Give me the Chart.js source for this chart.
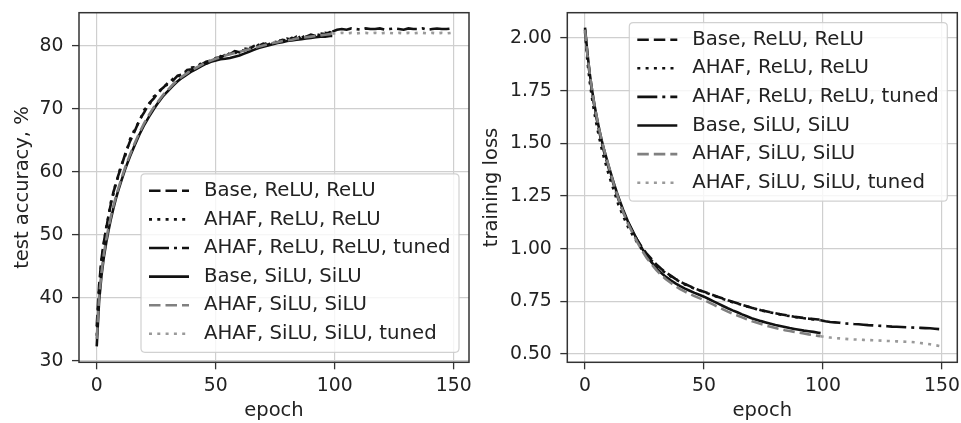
<!DOCTYPE html>
<html><head><meta charset="utf-8">
<script src="https://cdn.jsdelivr.net/npm/chart.js@4.4.0/dist/chart.umd.min.js"></script>
<style>
html,body{margin:0;padding:0;background:#fff;overflow:hidden;}
#wrap{position:relative;width:961px;height:423px;}
canvas{position:absolute;top:0;}
</style></head><body>
<div id="wrap">
<canvas id="acc" width="480" height="423" style="left:0"></canvas>
<canvas id="loss" width="481" height="423" style="left:480px"></canvas>
</div>
<script>
// ---------- data ----------
const epochs = [0,1,2,3,4,5,6,7,8,9,10,12,14,16,18,20,22,24,26,28,30,32,34,36,38,40,42,44,46,48,50,52,54,56,58,60,62,64,66,68,70,72,74,76,78,80,82,84,86,88,90,92,94,96,98,99];
const epochsTuned = [99,101,103,105,107,109,111,113,115,117,119,121,123,125,127,129,131,133,135,137,139,141,143,145,147,149];

const seriesNames = ["Base, ReLU, ReLU","AHAF, ReLU, ReLU","AHAF, ReLU, ReLU, tuned","Base, SiLU, SiLU","AHAF, SiLU, SiLU","AHAF, SiLU, SiLU, tuned"];

const accBaseReLU = [35.5,42.0,46.2,48.9,51.0,53.2,55.0,56.8,58.0,59.4,60.5,62.9,64.9,66.5,68.3,69.5,70.9,71.7,72.8,73.4,74.2,74.5,75.3,75.5,76.2,76.3,76.9,77.1,77.5,77.7,78.1,78.2,78.6,78.7,79.2,79.0,79.6,79.5,80.0,80.0,80.4,80.2,80.7,80.6,81.0,80.9,81.3,81.1,81.6,81.5,81.8,81.6,82.0,81.9,82.2,82.1];
const accAhafReLU = [34.0,41.5,45.8,48.6,51.2,53.0,55.3,56.5,58.3,59.2,60.8,62.6,65.2,66.8,68.1,69.9,70.6,72.0,72.5,73.6,73.9,74.8,75.0,75.8,75.9,76.6,76.7,77.3,77.2,77.9,77.8,78.4,78.3,78.9,78.8,79.4,79.3,79.8,79.6,80.2,80.1,80.6,80.4,80.9,80.8,81.2,81.0,81.5,81.3,81.7,81.6,81.9,81.7,82.1,82.0,82.3];
const accAhafReLUTuned = [82.3,82.6,82.7,82.6,82.8,82.7,82.6,82.8,82.7,82.7,82.8,82.6,82.7,82.8,82.7,82.6,82.8,82.7,82.7,82.8,82.6,82.7,82.8,82.7,82.7,82.8];
const accBaseSiLU = [32.3,39.5,43.5,46.5,48.8,50.8,52.6,54.2,55.7,57.0,58.2,60.5,62.5,64.3,66.0,67.5,68.8,70.0,71.1,72.1,72.9,73.7,74.4,75.0,75.5,76.0,76.4,76.8,77.2,77.5,77.7,77.9,78.0,78.1,78.3,78.5,78.8,79.1,79.4,79.7,79.9,80.1,80.3,80.5,80.6,80.8,80.9,81.0,81.1,81.2,81.3,81.4,81.5,81.5,81.6,81.6];
const accAhafSiLU = [33.5,40.2,44.0,47.0,49.3,51.3,53.0,54.6,56.0,57.3,58.5,60.8,62.8,64.6,66.3,67.8,69.1,70.3,71.3,72.3,73.1,73.9,74.6,75.2,75.7,76.2,76.6,77.0,77.4,77.7,78.0,78.2,78.5,78.7,78.9,79.1,79.3,79.5,79.7,79.9,80.1,80.3,80.5,80.6,80.8,80.9,81.0,81.2,81.3,81.4,81.5,81.6,81.7,81.8,81.9,82.0];
const accAhafSiLUTuned = [82.0,82.0,82.1,82.0,82.1,82.0,82.1,82.1,82.0,82.1,82.0,82.1,82.1,82.0,82.1,82.0,82.1,82.0,82.1,82.1,82.0,82.1,82.0,82.1,82.0,82.1];

const lossBaseReLU = [2.04,1.92,1.82,1.74,1.67,1.61,1.555,1.505,1.46,1.42,1.38,1.305,1.235,1.175,1.125,1.08,1.04,1.005,0.975,0.95,0.925,0.905,0.887,0.872,0.857,0.843,0.832,0.822,0.812,0.803,0.796,0.787,0.779,0.771,0.763,0.755,0.748,0.741,0.734,0.727,0.72,0.714,0.708,0.703,0.698,0.693,0.689,0.685,0.681,0.677,0.674,0.671,0.668,0.666,0.664,0.663];
const lossAhafReLU = [2.03,1.89,1.79,1.71,1.64,1.58,1.525,1.475,1.43,1.39,1.35,1.28,1.21,1.155,1.105,1.065,1.028,0.995,0.967,0.943,0.92,0.9,0.884,0.868,0.855,0.842,0.83,0.821,0.81,0.802,0.794,0.786,0.777,0.77,0.761,0.754,0.746,0.74,0.732,0.726,0.719,0.713,0.707,0.702,0.697,0.692,0.688,0.683,0.68,0.676,0.673,0.67,0.667,0.664,0.662,0.66];
const lossAhafReLUTuned = [0.66,0.655,0.652,0.65,0.648,0.645,0.644,0.642,0.641,0.639,0.637,0.636,0.634,0.633,0.632,0.63,0.629,0.628,0.627,0.626,0.625,0.624,0.623,0.622,0.62,0.618];
const lossBaseSiLU = [2.05,1.93,1.83,1.75,1.68,1.62,1.565,1.515,1.47,1.43,1.39,1.315,1.245,1.185,1.13,1.085,1.04,1.0,0.965,0.935,0.908,0.885,0.866,0.85,0.835,0.822,0.81,0.8,0.79,0.781,0.772,0.761,0.75,0.739,0.728,0.717,0.707,0.698,0.688,0.679,0.67,0.663,0.656,0.65,0.644,0.638,0.633,0.628,0.623,0.619,0.615,0.611,0.608,0.605,0.601,0.599];
const lossAhafSiLU = [2.04,1.92,1.83,1.75,1.68,1.62,1.565,1.515,1.47,1.43,1.39,1.31,1.24,1.175,1.12,1.075,1.03,0.99,0.955,0.925,0.898,0.875,0.855,0.838,0.822,0.808,0.796,0.785,0.775,0.765,0.756,0.745,0.734,0.723,0.712,0.701,0.692,0.683,0.674,0.665,0.656,0.649,0.642,0.635,0.629,0.623,0.618,0.613,0.609,0.605,0.601,0.597,0.593,0.59,0.586,0.584];
const lossAhafSiLUTuned = [0.584,0.58,0.578,0.576,0.574,0.572,0.57,0.569,0.568,0.567,0.566,0.565,0.564,0.563,0.562,0.561,0.56,0.559,0.558,0.557,0.555,0.552,0.549,0.546,0.542,0.538];

const epochTicks = [0,50,100,150];
const accTicks = [30,40,50,60,70,80];
const lossTicks = [0.5,0.75,1.0,1.25,1.5,1.75,2.0];

// ---------- styling ----------
const FONT = "'DejaVu Sans', sans-serif";
const FS_TICK = 18.8;
const FS_TITLE = 19.5;
const FS_LEG = 19.7;
const TXT = '#222';
const styleList = [
  {color:'#111', dash:[11.5,5]},
  {color:'#111', dash:[3,5.3]},
  {color:'#111', dash:[20,5,3,5]},
  {color:'#111', dash:[]},
  {color:'#808080', dash:[11.5,5]},
  {color:'#9a9a9a', dash:[3,5.3]}
];

function pts(xs, ys){ return xs.map((x,i)=>({x:x, y:ys[i]})); }
function makeDatasets(list){
  return list.map((d,i)=>({
    label: seriesNames[i],
    data: pts(d[0], d[1]),
    borderColor: styleList[i].color,
    borderDash: styleList[i].dash,
    borderWidth: 2.6,
    borderCapStyle: 'butt',
    pointRadius: 0,
    tension: 0,
    fill: false,
    order: 10 - i
  }));
}

const frameAndLegend = {
  id: 'frameAndLegend',
  afterDatasetsDraw(chart, args, opts){
    const ctx = chart.ctx, a = chart.chartArea;
    ctx.save();
    ctx.strokeStyle = '#333'; ctx.lineWidth = 1.5; ctx.setLineDash([]);
    ctx.strokeRect(a.left, a.top, a.right - a.left, a.bottom - a.top);
    const w = 318, h = 178.5, pad = 10;
    const x = a.right - pad - w;
    const y = opts.loc === 'lower' ? a.bottom - pad - h : a.top + pad;
    const r = 4;
    ctx.beginPath();
    ctx.moveTo(x + r, y); ctx.lineTo(x + w - r, y); ctx.quadraticCurveTo(x + w, y, x + w, y + r);
    ctx.lineTo(x + w, y + h - r); ctx.quadraticCurveTo(x + w, y + h, x + w - r, y + h);
    ctx.lineTo(x + r, y + h); ctx.quadraticCurveTo(x, y + h, x, y + h - r);
    ctx.lineTo(x, y + r); ctx.quadraticCurveTo(x, y, x + r, y);
    ctx.closePath();
    ctx.fillStyle = 'rgba(255,255,255,0.8)'; ctx.fill();
    ctx.strokeStyle = 'rgba(204,204,204,0.9)'; ctx.lineWidth = 1.2; ctx.stroke();
    chart.data.datasets.forEach((ds, i) => {
      const cy = y + 17 + i * 28.6;
      ctx.beginPath();
      ctx.setLineDash(ds.borderDash || []);
      ctx.strokeStyle = ds.borderColor; ctx.lineWidth = ds.borderWidth; ctx.lineCap = 'butt';
      ctx.moveTo(x + 8, cy); ctx.lineTo(x + 48, cy); ctx.stroke();
      ctx.setLineDash([]);
      ctx.fillStyle = TXT; ctx.font = FS_LEG + 'px ' + FONT; ctx.textBaseline = 'middle'; ctx.textAlign = 'left';
      ctx.fillText(ds.label, x + 63, cy);
    });
    ctx.restore();
  }
};

function makeChart(id, datasets, cfg){
  return new Chart(document.getElementById(id), {
    type: 'line',
    data: { datasets: datasets },
    plugins: [frameAndLegend],
    options: {
      responsive: false, animation: false, devicePixelRatio: 1,
      layout: { padding: { left: 0, top: 12.7, right: cfg.padRight, bottom: 0 } },
      plugins: { legend: { display: false }, tooltip: { enabled: false }, frameAndLegend: { loc: cfg.legendLoc } },
      scales: {
        x: {
          type: 'linear', min: -7.45, max: 156.45,
          afterBuildTicks: s => { s.ticks = epochTicks.map(v => ({ value: v })); },
          afterFit: s => { s.height = 60.7; s.paddingLeft = 0; s.paddingRight = 0; },
          grid: { color: '#cfcfcf', lineWidth: 1.2, drawTicks: true, tickLength: 7, tickColor: '#333', tickWidth: 1.3 },
          border: { display: false },
          ticks: { font: { family: FONT, size: FS_TICK }, color: TXT, padding: 6, maxRotation: 0, autoSkip: false },
          title: { display: true, text: 'epoch', font: { family: FONT, size: FS_TITLE }, color: TXT, padding: { top: 0, bottom: 0.3 } }
        },
        y: {
          type: 'linear', min: cfg.ymin, max: cfg.ymax,
          afterBuildTicks: s => { s.ticks = cfg.yticks.map(v => ({ value: v })); },
          afterFit: s => { s.width = cfg.yWidth; s.paddingTop = 0; s.paddingBottom = 0; },
          grid: { color: '#cfcfcf', lineWidth: 1.2, drawTicks: true, tickLength: 7, tickColor: '#333', tickWidth: 1.3 },
          border: { display: false },
          ticks: { font: { family: FONT, size: FS_TICK }, color: TXT, padding: 8.5, autoSkip: false, callback: cfg.fmt },
          title: { display: true, text: cfg.ytitle, font: { family: FONT, size: FS_TITLE }, color: TXT, padding: { top: cfg.titlePad, bottom: 0 } }
        }
      }
    }
  });
}

makeChart('acc', makeDatasets([
  [epochs, accBaseReLU], [epochs, accAhafReLU], [epochsTuned, accAhafReLUTuned],
  [epochs, accBaseSiLU], [epochs, accAhafSiLU], [epochsTuned, accAhafSiLUTuned]
]), { padRight: 11, yWidth: 79, ymin: 29.78, ymax: 85.3, yticks: accTicks, fmt: v => String(v), ytitle: 'test accuracy, %', titlePad: 11.3, legendLoc: 'lower' });

makeChart('loss', makeDatasets([
  [epochs, lossBaseReLU], [epochs, lossAhafReLU], [epochsTuned, lossAhafReLUTuned],
  [epochs, lossBaseSiLU], [epochs, lossAhafSiLU], [epochsTuned, lossAhafSiLUTuned]
]), { padRight: 3.7, yWidth: 87.3, ymin: 0.4605, ymax: 2.1205, yticks: lossTicks, fmt: v => Number(v).toFixed(2), ytitle: 'training loss', titlePad: 0, legendLoc: 'upper' });
</script>
</body></html>
